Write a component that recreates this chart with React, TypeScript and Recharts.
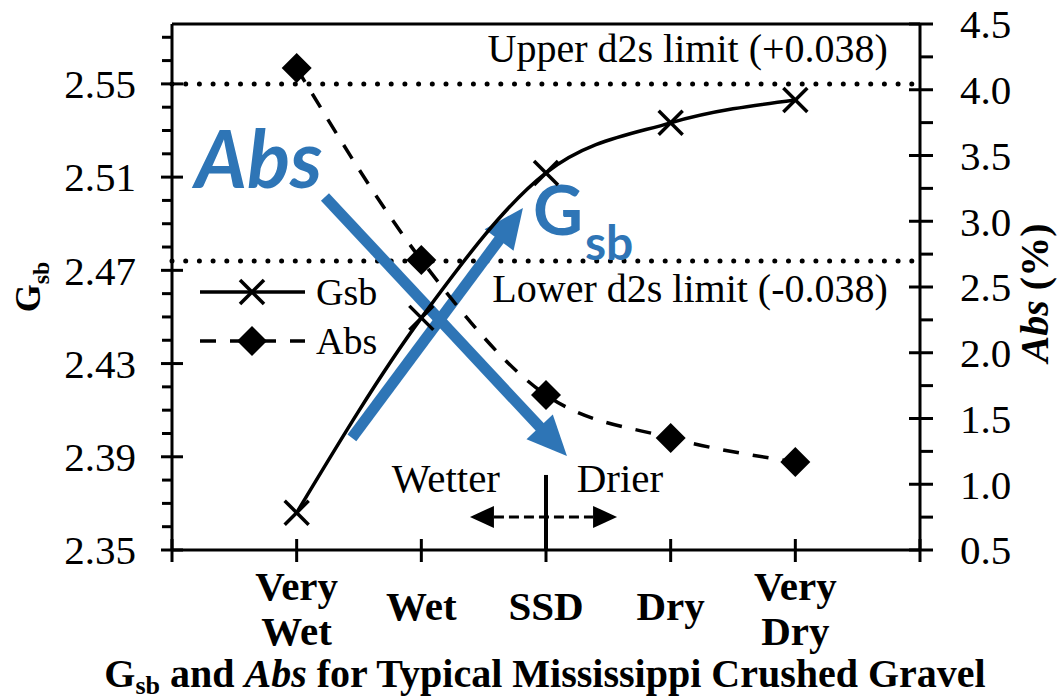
import React from "react";
import { ComposedChart, Line, XAxis, YAxis, ReferenceLine, ReferenceDot } from "recharts";

const categoryLabels = [["Very", "Wet"], ["Wet"], ["SSD"], ["Dry"], ["Very", "Dry"]];
const categoryPos = [1, 2, 3, 4, 5];
const gsbValues = [2.366, 2.4496, 2.5118, 2.5333, 2.5431];
const absValues = [4.165, 2.705, 1.679, 1.352, 1.169];

const xTicks = [0, 1, 2, 3, 4, 5, 6];
const gsbTicks = [
  2.35, 2.36, 2.37, 2.38, 2.39, 2.4, 2.41, 2.42, 2.43, 2.44, 2.45, 2.46,
  2.47, 2.48, 2.49, 2.5, 2.51, 2.52, 2.53, 2.54, 2.55, 2.56, 2.57,
];
const gsbMajor = [2.35, 2.39, 2.43, 2.47, 2.51, 2.55];
const absTicks = [
  0.5, 0.75, 1, 1.25, 1.5, 1.75, 2, 2.25, 2.5, 2.75, 3, 3.25, 3.5, 3.75, 4,
  4.25, 4.5,
];
const absMajor = [0.5, 1, 1.5, 2, 2.5, 3, 3.5, 4, 4.5];
const gsbDomain = [2.35, 2.5757];
const absDomain = [0.5, 4.5];

const upperLimit = 2.55;
const lowerLimit = 2.474;

const data = categoryPos.map((x, i) => ({ x, gsb: gsbValues[i], abs: absValues[i] }));

const SERIF = "'Liberation Serif', 'Times New Roman', serif";
const BLUE = "#2E75B6";

const isIn = (list: number[], v: number) => list.some((m) => Math.abs(m - v) < 1e-6);

function LeftTick({ x, y, payload }: any) {
  const v = payload.value;
  const major = isIn(gsbMajor, v);
  return (
    <g>
      {major ? (
        <line x1={x - 11} x2={x + 11} y1={y} y2={y} stroke="#000" strokeWidth={3} />
      ) : (
        <line x1={x - 10} x2={x} y1={y} y2={y} stroke="#000" strokeWidth={3} />
      )}
      {major && (
        <text x={x - 36} y={y} dy="0.35em" textAnchor="end" fontFamily={SERIF} fontSize={41} fill="#000">
          {v.toFixed(2)}
        </text>
      )}
    </g>
  );
}

function RightTick({ x, y, payload }: any) {
  const v = payload.value;
  const major = isIn(absMajor, v);
  return (
    <g>
      {major ? (
        <line x1={x - 11} x2={x + 13} y1={y} y2={y} stroke="#000" strokeWidth={3} />
      ) : (
        <line x1={x} x2={x + 13} y1={y} y2={y} stroke="#000" strokeWidth={3} />
      )}
      {major && (
        <text x={x + 40} y={y} dy="0.35em" textAnchor="start" fontFamily={SERIF} fontSize={41} fill="#000">
          {v.toFixed(1)}
        </text>
      )}
    </g>
  );
}

function BottomTick({ x, y, payload }: any) {
  const idx = categoryPos.indexOf(payload.value);
  const lines = idx >= 0 ? categoryLabels[idx] : [];
  const startY = lines.length === 2 ? y + 50 : y + 70;
  return (
    <g>
      <line x1={x} x2={x} y1={y - 11} y2={y + 12} stroke="#000" strokeWidth={3} />
      {lines.length > 0 && (
        <text textAnchor="middle" fontFamily={SERIF} fontWeight="bold" fontSize={41} fill="#000">
          {lines.map((l, i) => (
            <tspan key={i} x={x} y={startY + i * 45}>
              {l}
            </tspan>
          ))}
        </text>
      )}
    </g>
  );
}

function Cross({ cx, cy }: any) {
  if (cx == null || cy == null) return null;
  const s = 12;
  return (
    <g>
      <line x1={cx - s} y1={cy - s} x2={cx + s} y2={cy + s} stroke="#000" strokeWidth={3.5} />
      <line x1={cx - s} y1={cy + s} x2={cx + s} y2={cy - s} stroke="#000" strokeWidth={3.5} />
    </g>
  );
}

function Diamond({ cx, cy }: any) {
  if (cx == null || cy == null) return null;
  const s = 15;
  return <polygon points={`${cx},${cy - s} ${cx + s},${cy} ${cx},${cy + s} ${cx - s},${cy}`} fill="#000" />;
}

// thick blue annotation arrow with a filled head at the end point
function BlueArrow(props: any) {
  const { x1, y1, x2, y2 } = props;
  const dx = x2 - x1;
  const dy = y2 - y1;
  const len = Math.sqrt(dx * dx + dy * dy) || 1;
  const ux = dx / len;
  const uy = dy / len;
  const head = 40;
  const half = 18;
  const bx = x2 - ux * head;
  const by = y2 - uy * head;
  return (
    <g>
      <line x1={x1} y1={y1} x2={bx + ux * 2} y2={by + uy * 2} stroke={BLUE} strokeWidth={11} />
      <polygon
        points={`${x2},${y2} ${bx - uy * half},${by + ux * half} ${bx + uy * half},${by - ux * half}`}
        fill={BLUE}
      />
    </g>
  );
}

function DoubleArrow(props: any) {
  const { x1, y1, x2 } = props;
  const head = 24;
  const half = 11;
  return (
    <g>
      <line x1={x1 + head} y1={y1} x2={x2 - head} y2={y1} stroke="#000" strokeWidth={3} strokeDasharray="10 5" />
      <polygon points={`${x1},${y1} ${x1 + head},${y1 - half} ${x1 + head},${y1 + half}`} fill="#000" />
      <polygon points={`${x2},${y1} ${x2 - head},${y1 - half} ${x2 - head},${y1 + half}`} fill="#000" />
    </g>
  );
}

const textShape =
  (content: React.ReactNode, anchor: "start" | "middle" | "end", size: number) =>
  ({ cx, cy }: any) =>
    (
      <text x={cx} y={cy} textAnchor={anchor} fontFamily={SERIF} fontSize={size} fill="#000">
        {content}
      </text>
    );

function AbsWord({ cx, cy }: any) {
  return (
    <text x={cx} y={cy} fontFamily="Lato, 'Open Sans', sans-serif" fontWeight="bold" fontStyle="italic" fontSize={80} fill={BLUE}>
      Abs
    </text>
  );
}

function GsbWord({ cx, cy }: any) {
  return (
    <text x={cx} y={cy} fontFamily="Lato, 'Open Sans', sans-serif" fontWeight="bold" fontSize={69} fill={BLUE}>
      G
      <tspan fontSize={48} dx={2} dy={25}>
        sb
      </tspan>
    </text>
  );
}

function LeftAxisTitle({ viewBox }: any) {
  const vb = viewBox && viewBox.height ? viewBox : { x: 0, y: 24, width: 172, height: 526 };
  const cx = 40;
  const cy = vb.y + vb.height / 2;
  return (
    <text transform={`translate(${cx},${cy}) rotate(-90)`} textAnchor="middle" fontFamily={SERIF} fontWeight="bold" fontSize={36} fill="#000">
      G
      <tspan fontSize={24} dy={9}>
        sb
      </tspan>
    </text>
  );
}

function RightAxisTitle({ viewBox }: any) {
  const vb = viewBox && viewBox.height ? viewBox : { x: 920, y: 24, width: 139, height: 526 };
  const cx = 1048;
  const cy = vb.y + vb.height / 2 + 6;
  return (
    <text transform={`translate(${cx},${cy}) rotate(-90)`} textAnchor="middle" fontFamily={SERIF} fontWeight="bold" fontSize={40} fill="#000">
      <tspan fontStyle="italic">Abs</tspan> (%)
    </text>
  );
}

function BottomTitle() {
  return (
    <text x={545} y={687} textAnchor="middle" fontFamily={SERIF} fontWeight="bold" fontSize={40} fill="#000">
      G
      <tspan fontSize={26} dy={7}>
        sb
      </tspan>
      <tspan dy={-7}> and </tspan>
      <tspan fontStyle="italic">Abs</tspan>
      <tspan> for Typical Mississippi Crushed Gravel</tspan>
    </text>
  );
}

function LegendBox() {
  return (
    <svg width={210} height={100} style={{ position: "absolute", left: 195, top: 270 }}>
      <line x1={5} x2={110} y1={22} y2={22} stroke="#000" strokeWidth={3.5} />
      <Cross cx={57} cy={22} />
      <text x={121} y={22} dy="0.35em" fontFamily={SERIF} fontSize={38} fill="#000">
        Gsb
      </text>
      <line x1={5} x2={110} y1={71} y2={71} stroke="#000" strokeWidth={3.5} strokeDasharray="16 14" />
      <Diamond cx={57} cy={71} />
      <text x={121} y={71} dy="0.35em" fontFamily={SERIF} fontSize={38} fill="#000">
        Abs
      </text>
    </svg>
  );
}

export default function App() {
  return (
    <div style={{ position: "relative", width: 1059, height: 699, background: "#fff" }}>
      <style>{"body{margin:0}"}</style>
      <ComposedChart width={1059} height={699} data={data} margin={{ top: 24, right: 0, bottom: 0, left: 0 }}>
        <XAxis
          dataKey="x"
          type="number"
          domain={[0, 6]}
          ticks={xTicks}
          interval={0}
          height={149}
          tickSize={0}
          tickMargin={0}
          tickLine={false}
          tick={<BottomTick />}
          axisLine={{ stroke: "#000", strokeWidth: 3 }}
        />
        <YAxis
          yAxisId="left"
          orientation="left"
          type="number"
          domain={gsbDomain}
          ticks={gsbTicks}
          interval={0}
          width={172}
          tickSize={0}
          tickMargin={0}
          tickLine={false}
          tick={<LeftTick />}
          axisLine={{ stroke: "#000", strokeWidth: 3 }}
          label={<LeftAxisTitle />}
        />
        <YAxis
          yAxisId="right"
          orientation="right"
          type="number"
          domain={absDomain}
          ticks={absTicks}
          interval={0}
          width={139}
          tickSize={0}
          tickMargin={0}
          tickLine={false}
          tick={<RightTick />}
          axisLine={{ stroke: "#000", strokeWidth: 3 }}
          label={<RightAxisTitle />}
        />

        <ReferenceLine yAxisId="left" y={gsbDomain[1]} stroke="#000" strokeWidth={3} />
        <ReferenceLine yAxisId="left" y={upperLimit} stroke="#000" strokeWidth={5} strokeDasharray="0 13.7" strokeLinecap="round" />
        <ReferenceLine yAxisId="left" y={lowerLimit} stroke="#000" strokeWidth={5} strokeDasharray="0 13.7" strokeLinecap="round" />

        <ReferenceLine
          yAxisId="left"
          segment={[{ x: 1.227, y: 2.5015 }, { x: 3.168, y: 2.3903 }]}
          shape={BlueArrow}
        />
        <ReferenceLine
          yAxisId="left"
          segment={[{ x: 1.443, y: 2.3981 }, { x: 2.815, y: 2.4968 }]}
          shape={BlueArrow}
        />
        <ReferenceLine
          yAxisId="left"
          segment={[{ x: 3, y: 2.35 }, { x: 3, y: 2.3822 }]}
          stroke="#000"
          strokeWidth={4}
        />
        <ReferenceLine
          yAxisId="left"
          segment={[{ x: 2.39, y: 2.3642 }, { x: 3.57, y: 2.3642 }]}
          shape={DoubleArrow}
        />

        <ReferenceDot yAxisId="left" x={0.184} y={2.5054} r={0} shape={AbsWord} />
        <ReferenceDot yAxisId="left" x={2.895} y={2.4852} r={0} shape={GsbWord} />
        <ReferenceDot yAxisId="left" x={5.742} y={2.5594} r={0} shape={textShape("Upper d2s limit (+0.038)", "end", 40)} />
        <ReferenceDot yAxisId="left" x={5.742} y={2.4565} r={0} shape={textShape("Lower d2s limit (-0.038)", "end", 40)} />
        <ReferenceDot yAxisId="left" x={2.197} y={2.3749} r={0} shape={textShape("Wetter", "middle", 41)} />
        <ReferenceDot yAxisId="left" x={3.593} y={2.3749} r={0} shape={textShape("Drier", "middle", 41)} />

        <Line
          yAxisId="left"
          dataKey="gsb"
          type="monotone"
          stroke="#000"
          strokeWidth={3.5}
          dot={(p: any) => <Cross key={`g${p.index}`} cx={p.cx} cy={p.cy} />}
          activeDot={false}
          isAnimationActive={false}
        />
        <Line
          yAxisId="right"
          dataKey="abs"
          type="monotone"
          stroke="#000"
          strokeWidth={3.5}
          strokeDasharray="16 14"
          dot={(p: any) => <Diamond key={`a${p.index}`} cx={p.cx} cy={p.cy} />}
          activeDot={false}
          isAnimationActive={false}
        />
      </ComposedChart>
      <svg width={1059} height={699} style={{ position: "absolute", left: 0, top: 0, pointerEvents: "none" }}>
        <BottomTitle />
      </svg>
      <LegendBox />
    </div>
  );
}
